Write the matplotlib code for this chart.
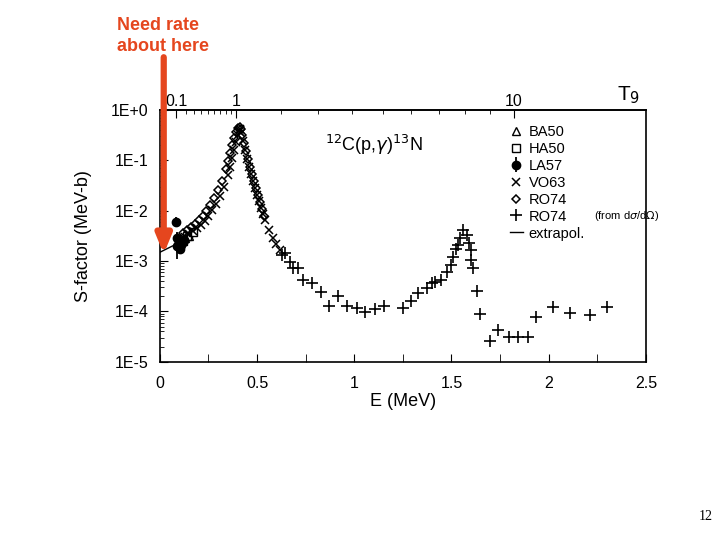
import numpy as np
import matplotlib
matplotlib.use('Agg')
import matplotlib.pyplot as plt
from matplotlib.ticker import FixedLocator, FuncFormatter, LogLocator, NullFormatter

plt.rcParams['font.family'] = ['Liberation Sans', 'DejaVu Sans']

# VO63 (x) rising and falling branches of the 0.46 MeV resonance
vo63_e = [0.13, 0.15, 0.17, 0.19, 0.21, 0.23, 0.25, 0.27, 0.29, 0.31, 0.33, 0.35, 0.36, 0.37,
          0.38, 0.39, 0.40, 0.405, 0.41, 0.42, 0.43, 0.44, 0.45, 0.46, 0.47, 0.48, 0.49, 0.50,
          0.51, 0.52, 0.53, 0.54, 0.56, 0.58, 0.60, 0.62]
vo63_logs = [-2.52, -2.47, -2.41, -2.35, -2.28, -2.20, -2.10, -1.98, -1.86, -1.70, -1.52, -1.28,
             -1.12, -0.96, -0.80, -0.64, -0.50, -0.42, -0.37, -0.45, -0.62, -0.80, -0.97, -1.12,
             -1.27, -1.41, -1.55, -1.68, -1.81, -1.94, -2.06, -2.18, -2.38, -2.55, -2.66, -2.78]

# RO74 (diamonds)
ro74_e = [0.12, 0.14, 0.16, 0.18, 0.20, 0.22, 0.24, 0.26, 0.28, 0.30, 0.32, 0.34, 0.35, 0.36,
          0.37, 0.38, 0.39, 0.40, 0.41, 0.415, 0.425, 0.435, 0.445, 0.455, 0.465, 0.475, 0.485,
          0.495, 0.505, 0.515, 0.525, 0.535]
ro74_logs = [-2.44, -2.38, -2.32, -2.26, -2.18, -2.10, -2.00, -1.88, -1.74, -1.58, -1.40, -1.16,
             -1.02, -0.86, -0.70, -0.56, -0.44, -0.36, -0.34, -0.38, -0.50, -0.66, -0.82, -0.98,
             -1.12, -1.26, -1.40, -1.54, -1.68, -1.82, -1.96, -2.10]

# RO74 from d sigma / d Omega (+)
rop_e = [0.629, 0.644, 0.670, 0.686, 0.711, 0.737, 0.784, 0.830, 0.871, 0.918, 0.964, 1.015,
         1.057, 1.108, 1.155, 1.253, 1.294, 1.330, 1.376, 1.402, 1.418, 1.448, 1.479, 1.500,
         1.510, 1.526, 1.536, 1.546, 1.562, 1.582, 1.588, 1.603, 1.603, 1.613, 1.634, 1.649,
         1.696, 1.742, 1.794, 1.840, 1.892, 1.933, 2.021, 2.108, 2.211, 2.299]
rop_logs = [-2.88, -2.84, -3.02, -3.13, -3.13, -3.37, -3.43, -3.61, -3.89, -3.69, -3.89, -3.93,
            -4.01, -3.95, -3.89, -3.93, -3.79, -3.63, -3.53, -3.43, -3.41, -3.37, -3.21, -3.08,
            -2.92, -2.76, -2.68, -2.54, -2.38, -2.48, -2.64, -2.78, -2.98, -3.13, -3.59, -4.05,
            -4.58, -4.37, -4.50, -4.50, -4.50, -4.11, -3.91, -4.03, -4.07, -3.91]

# LA57 (filled circles) with error bars
la57_e = [0.082, 0.086, 0.090, 0.096, 0.102, 0.110, 0.118, 0.126]
la57_logs = [-2.22, -2.55, -2.70, -2.62, -2.75, -2.68, -2.62, -2.58]
la57_err = [0.10, 0.12, 0.25, 0.12, 0.10, 0.10, 0.08, 0.08]

# BA50 (triangles), HA50 (squares)
ba50_e = [0.10, 0.13, 0.15]
ba50_logs = [-2.65, -2.55, -2.50]
ha50_e = [0.12, 0.14, 0.17]
ha50_logs = [-2.60, -2.50, -2.42]

# extrapolation line
ext_e = [0.0, 0.065]
ext_s = [1.5e-3, 2.0e-3]

fig = plt.figure(figsize=(7.2, 5.4), dpi=100)
ax = fig.add_axes([0.222, 0.330, 0.675, 0.466])

p = lambda l: 10.0 ** np.array(l)

ax.plot(vo63_e, p(vo63_logs), 'x', color='black', ms=6, mew=1.1, label='VO63')
ax.plot(ro74_e, p(ro74_logs), 'D', color='black', mfc='none', ms=4.5, mew=1.1, label='RO74')
ax.plot(rop_e, p(rop_logs), '+', color='black', ms=8, mew=1.2, label='RO74')
lo = p(np.array(la57_logs) - np.array(la57_err))
hi = p(np.array(la57_logs) + np.array(la57_err))
ax.errorbar(la57_e, p(la57_logs), yerr=[p(la57_logs) - lo, hi - p(la57_logs)],
            fmt='o', color='black', ms=6, elinewidth=1.3, capsize=0, label='LA57')
ax.plot(ba50_e, p(ba50_logs), '^', color='black', mfc='none', ms=5.5, label='BA50')
ax.plot(ha50_e, p(ha50_logs), 's', color='black', mfc='none', ms=5.5, label='HA50')
ax.plot(ext_e, ext_s, '-', color='black', lw=1.0, label='extrapol.')

ax.set_yscale('log')
ax.set_xlim(0, 2.5)
ax.set_ylim(1e-5, 1)

ax.set_xticks([0, 0.5, 1, 1.5, 2, 2.5])
ax.set_xticklabels(['0', '0.5', '1', '1.5', '2', '2.5'])
ax.xaxis.set_minor_locator(FixedLocator([0.25, 0.75, 1.25, 1.75, 2.25]))
ax.yaxis.set_major_locator(FixedLocator([1e-5, 1e-4, 1e-3, 1e-2, 1e-1, 1]))
ax.yaxis.set_major_formatter(FuncFormatter(lambda v, pos: '1E+0' if v >= 0.99 else '1E%d' % round(np.log10(v))))
ax.yaxis.set_minor_locator(LogLocator(base=10, subs=np.arange(2, 10)))
ax.yaxis.set_minor_formatter(NullFormatter())
ax.tick_params(axis='x', which='both', direction='in', length=6, labelsize=11.5, pad=10, bottom=True, top=False)
ax.tick_params(axis='y', which='major', direction='in', length=6, labelsize=11.5, pad=8)
ax.tick_params(axis='y', which='minor', direction='in', length=3)
for s in ax.spines.values():
    s.set_linewidth(1.2)

ax.set_xlabel('E (MeV)', fontsize=13, labelpad=2)
ax.set_ylabel('S-factor (MeV-b)', fontsize=13, labelpad=14)

# top T9 axis (Gamow peak energy)
def t9_to_e(t):
    return 0.392 * np.clip(t, 1e-9, None) ** (2.0 / 3.0)

def e_to_t9(e):
    return (np.clip(e, 1e-9, None) / 0.392) ** 1.5

sec = ax.secondary_xaxis('top', functions=(e_to_t9, t9_to_e))
sec.set_xticks([0.1, 1, 10])
sec.set_xticklabels(['0.1', '1', '10'])
sec.set_xticks([0.2, 0.3, 0.4, 0.5, 0.6, 0.7, 0.8, 0.9, 2, 3, 4, 5, 6, 7, 8, 9], minor=True)
sec.tick_params(which='major', direction='in', length=6, labelsize=11.5, pad=1)
sec.tick_params(which='minor', direction='in', length=3)
sec.spines['top'].set_linewidth(1.2)
ax.text(0.965, 1.015, 'T$_9$', transform=ax.transAxes, fontsize=15, ha='center', va='bottom')

ax.text(0.44, 0.86, '$^{12}$C(p,$\\gamma$)$^{13}$N', transform=ax.transAxes, fontsize=13,
        ha='center', va='center')

handles, labels = ax.get_legend_handles_labels()
order = [labels.index('BA50'), labels.index('HA50'), labels.index('LA57'), labels.index('VO63'), 1, 2,
         labels.index('extrapol.')]
leg = ax.legend([handles[i] for i in order], ['BA50', 'HA50', 'LA57', 'VO63', 'RO74', 'RO74', 'extrapol.'],
                loc='upper left', bbox_to_anchor=(0.705, 0.97), frameon=False, fontsize=10.5,
                handlelength=0.9, handletextpad=0.4, labelspacing=0.2, borderpad=0)
ax.text(0.893, 0.578, '(from d$\\sigma$/d$\\Omega$)', transform=ax.transAxes, fontsize=8, va='center')

# red annotation
red = '#E5461E'
fig.text(117 / 720, 1 - 36 / 540, 'Need rate\nabout here', color=red, fontsize=13, fontweight='bold',
         ha='left', va='center', linespacing=1.3)
ax.annotate('', xy=(0.02, 10 ** -2.86), xytext=(0.02, 10 ** ((110 - 57) / 50.4)),
            arrowprops=dict(arrowstyle='-|>,head_width=0.45,head_length=1.1', color=red, lw=4.5,
                            shrinkA=0, shrinkB=0), annotation_clip=False)

fig.text(706 / 720, 1 - 516 / 540, '12', fontsize=10, family='Liberation Serif', ha='center', va='center')

fig.savefig('out.png', dpi=100)
